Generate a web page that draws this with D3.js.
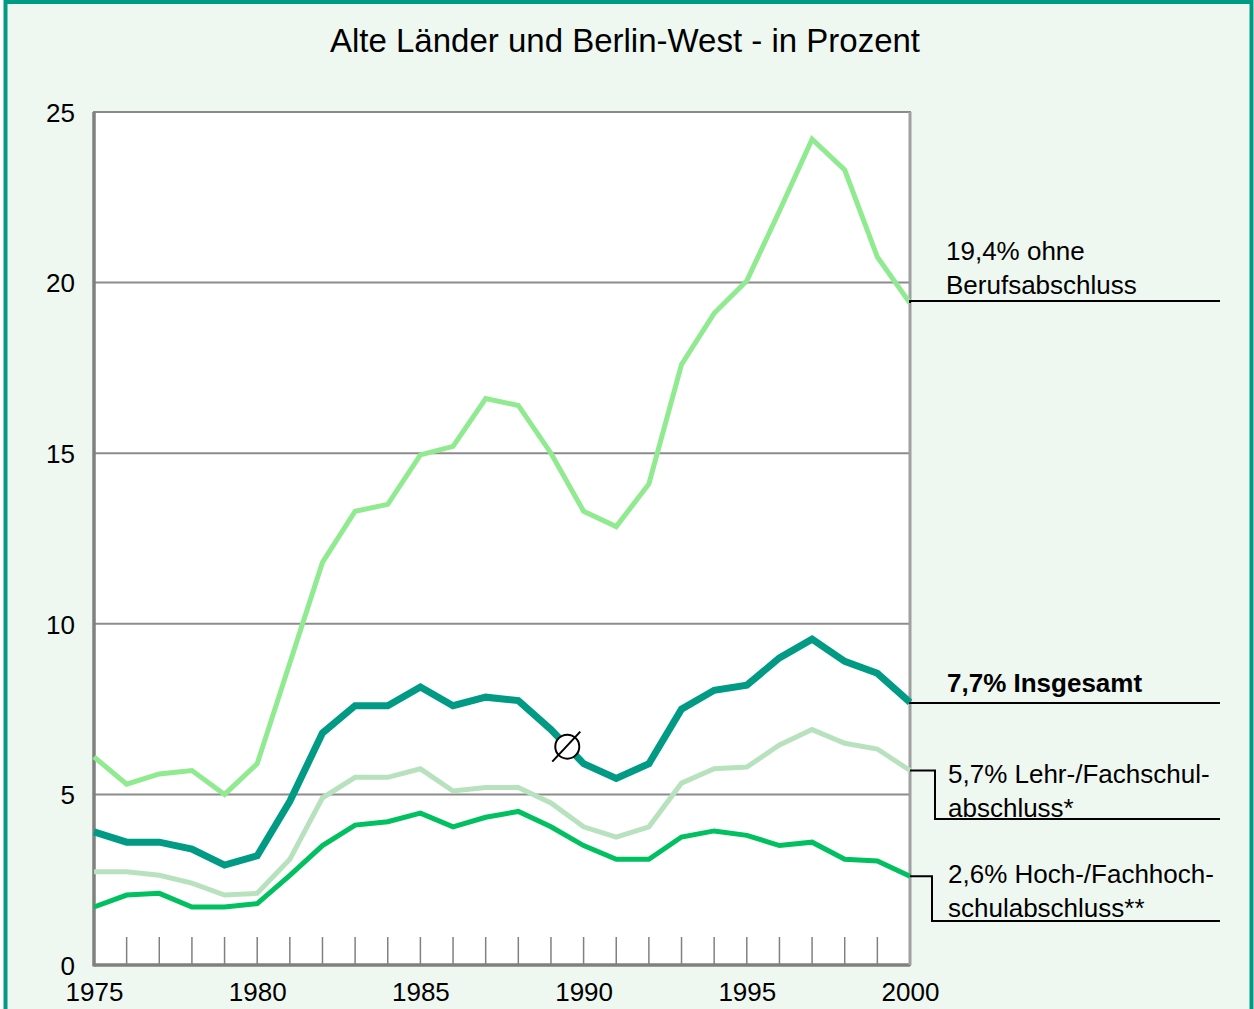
<!DOCTYPE html>
<html>
<head>
<meta charset="utf-8">
<script src="https://cdn.jsdelivr.net/npm/d3@7"></script>
<style>
    body { margin: 0; background: #ffffff; }
    text { font-family: "Liberation Sans", Arial, sans-serif; }
</style>
</head>
<body>
<script>
// Data
let years = d3.range(1975, 2001);
let yTicks = [0, 5, 10, 15, 20, 25];
let xLabels = [1975, 1980, 1985, 1990, 1995, 2000];

let ohneBeruf = [6.1, 5.3, 5.6, 5.7, 5.0, 5.9, 8.85, 11.8, 13.3, 13.5,
                 14.95, 15.2, 16.6, 16.4, 15.0, 13.3, 12.85, 14.1, 17.6, 19.1,
                 20.05, 22.1, 24.2, 23.3, 20.75, 19.4];
let insgesamt = [3.9, 3.6, 3.6, 3.4, 2.93, 3.2, 4.8, 6.8, 7.6, 7.6,
                 8.15, 7.6, 7.85, 7.75, 6.9, 5.9, 5.47, 5.9, 7.5, 8.05,
                 8.2, 9.0, 9.55, 8.9, 8.55, 7.7];
let lehrFach = [2.73, 2.73, 2.63, 2.4, 2.05, 2.1, 3.1, 4.9, 5.5, 5.5,
                5.75, 5.1, 5.2, 5.2, 4.75, 4.05, 3.75, 4.05, 5.33, 5.75,
                5.8, 6.45, 6.9, 6.5, 6.33, 5.7];
let hochFach = [1.7, 2.05, 2.1, 1.7, 1.7, 1.8, 2.63, 3.5, 4.1, 4.2,
                4.45, 4.05, 4.33, 4.5, 4.05, 3.5, 3.1, 3.1, 3.75, 3.93,
                3.8, 3.5, 3.6, 3.1, 3.05, 2.6];

let seriesNames = ["19,4% ohne|Berufsabschluss", "7,7% Insgesamt",
                   "5,7% Lehr-/Fachschul-|abschluss*", "2,6% Hoch-/Fachhoch-|schulabschluss**"];

let svg = null;
let x, y = null;
let plot = {left: 94, right: 910, top: 112, bottom: 965};

// Main Process
appendSvg("body");
setupScales();
appendFrame();
appendGrid();
appendAxes();
appendLines();
appendDiameter();
appendLabels();

function appendSvg(domElement) {
    svg = d3.select(domElement).append("svg")
            .attr("width", 1254)
            .attr("height", 1009);
}

function setupScales() {
    x = d3.scaleLinear().domain([1975, 2000]).range([plot.left, plot.right]);
    y = d3.scaleLinear().domain([0, 25]).range([plot.bottom, plot.top]);
}

// outer teal frame + light green background
function appendFrame() {
    svg.append("rect")
        .attr("x", 5.5).attr("y", 2)
        .attr("width", 1246).attr("height", 1020)
        .attr("fill", "#eef7f0")
        .attr("stroke", "#009a85")
        .attr("stroke-width", 4);

    svg.append("rect")
        .attr("x", plot.left).attr("y", plot.top)
        .attr("width", plot.right - plot.left)
        .attr("height", plot.bottom - plot.top)
        .attr("fill", "#ffffff");

    svg.append("text")
        .attr("x", 625).attr("y", 52)
        .attr("text-anchor", "middle")
        .attr("font-size", 33)
        .attr("fill", "#000")
        .text("Alte Länder und Berlin-West - in Prozent");
}

function appendGrid() {
    svg.append("g")
        .selectAll("line")
        .data(yTicks.filter(d => d > 0 && d < 25))
        .enter().append("line")
        .attr("x1", plot.left).attr("x2", plot.right)
        .attr("y1", d => y(d)).attr("y2", d => y(d))
        .attr("stroke", "#8c8c8c")
        .attr("stroke-width", 2);

    // small year ticks at the bottom
    svg.append("g")
        .selectAll("line")
        .data(years.slice(1, -1))
        .enter().append("line")
        .attr("x1", d => x(d)).attr("x2", d => x(d))
        .attr("y1", plot.bottom - 28).attr("y2", plot.bottom)
        .attr("stroke", "#808080")
        .attr("stroke-width", 1.5);

    // plot border
    svg.append("rect")
        .attr("x", plot.left).attr("y", plot.top)
        .attr("width", plot.right - plot.left)
        .attr("height", plot.bottom - plot.top)
        .attr("fill", "none")
        .attr("stroke", "#8a8a8a")
        .attr("stroke-width", 2);

    svg.append("line")
        .attr("x1", plot.left).attr("x2", plot.left)
        .attr("y1", plot.top).attr("y2", plot.bottom + 1.5)
        .attr("stroke", "#808080").attr("stroke-width", 3.5);
    svg.append("line")
        .attr("x1", plot.left).attr("x2", plot.right)
        .attr("y1", plot.bottom).attr("y2", plot.bottom)
        .attr("stroke", "#808080").attr("stroke-width", 3.5);
    svg.append("line")
        .attr("x1", plot.right).attr("x2", plot.right)
        .attr("y1", plot.top).attr("y2", plot.bottom)
        .attr("stroke", "#a0a0a0").attr("stroke-width", 3);
}

function appendAxes() {
    let yAxis = svg.append("g")
        .attr("transform", `translate(${plot.left}, 0)`)
        .call(d3.axisLeft(y).tickValues(yTicks).tickSize(0).tickPadding(19));
    yAxis.select(".domain").remove();
    yAxis.selectAll("text")
        .attr("font-size", 26)
        .attr("font-family", "Liberation Sans, Arial, sans-serif")
        .attr("fill", "#000")
        .attr("dy", "0.36em");

    let xAxis = svg.append("g")
        .attr("transform", `translate(0, ${plot.bottom})`)
        .call(d3.axisBottom(x).tickValues(xLabels).tickFormat(d3.format("d")).tickSize(0).tickPadding(18));
    xAxis.select(".domain").remove();
    xAxis.selectAll("text")
        .attr("font-size", 26)
        .attr("font-family", "Liberation Sans, Arial, sans-serif")
        .attr("fill", "#000");
}

function appendLines() {
    let line = d3.line()
        .x((d, i) => x(years[i]))
        .y(d => y(d));

    let series = [
        {values: ohneBeruf, color: "#90ea90", width: 5},
        {values: lehrFach, color: "#b8e2be", width: 5},
        {values: hochFach, color: "#00c060", width: 5},
        {values: insgesamt, color: "#009a85", width: 7}
    ];

    svg.append("g")
        .selectAll("path")
        .data(series)
        .enter().append("path")
        .attr("d", d => line(d.values))
        .attr("fill", "none")
        .attr("stroke", d => d.color)
        .attr("stroke-width", d => d.width)
        .attr("stroke-linejoin", "miter");
}

// average sign on the total line
function appendDiameter() {
    let i = years.indexOf(1989);
    let cx = x(1989.5);
    let cy = y((insgesamt[i] + insgesamt[i + 1]) / 2);
    let g = svg.append("g").attr("transform", `translate(${cx}, ${cy})`);
    g.append("circle")
        .attr("r", 12)
        .attr("fill", "#fff")
        .attr("stroke", "#000")
        .attr("stroke-width", 2);
    g.append("line")
        .attr("x1", -15).attr("y1", 15)
        .attr("x2", 13).attr("y2", -15)
        .attr("stroke", "#000")
        .attr("stroke-width", 2);
}

// labels on the right side with leader lines
function appendLabels() {
    let ends = [ohneBeruf, insgesamt, lehrFach, hochFach].map(s => s[s.length - 1]);
    let textX = [946, 947, 948, 948];
    let baseY = [260, 692, 783, 883];
    let stepX = [null, null, 935, 932];
    let underY = [301, 703, 819, 921];

    seriesNames.forEach(function(name, k) {
        let lines = name.split("|");
        let t = svg.append("text")
            .attr("x", textX[k])
            .attr("y", baseY[k])
            .attr("font-size", 26)
            .attr("font-weight", k === 1 ? "bold" : "normal")
            .attr("fill", "#000");
        lines.forEach(function(l, j) {
            t.append("tspan")
                .attr("x", textX[k])
                .attr("dy", j === 0 ? 0 : 34)
                .text(l);
        });

        let y0 = y(ends[k]);
        let pts;
        if (stepX[k] === null) {
            pts = [[plot.right, y0], [plot.right, underY[k]], [1220, underY[k]]];
        } else {
            pts = [[plot.right, y0], [stepX[k], y0], [stepX[k], underY[k]], [1220, underY[k]]];
        }
        svg.append("path")
            .attr("d", d3.line()(pts))
            .attr("fill", "none")
            .attr("stroke", "#000")
            .attr("stroke-width", 2);
    });
}
</script>
</body>
</html>
